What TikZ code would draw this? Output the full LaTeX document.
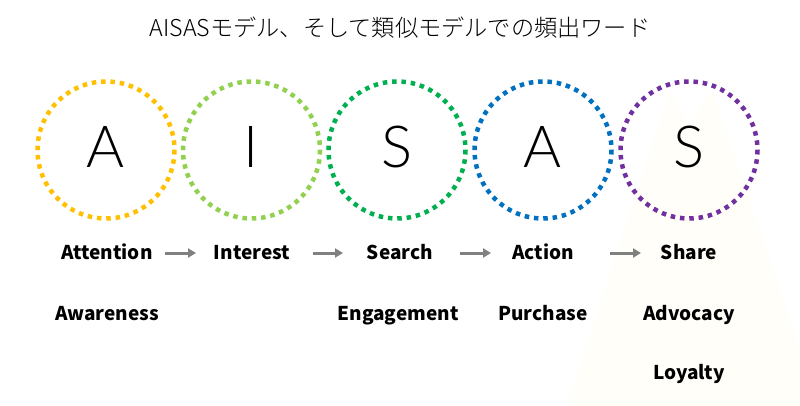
\documentclass[tikz,border=0pt]{standalone}
\usepackage{fontspec}
\setmainfont{Noto Sans CJK JP}
\IfFontExistsTF{Lato Light}{\newfontfamily\thinfont{Lato Light}\def\thinsize{58}}{%
  \IfFontExistsTF{Fira Sans Light}{\newfontfamily\thinfont{Fira Sans Light}\def\thinsize{60}}{%
    \IfFontExistsTF{Open Sans Light}{\newfontfamily\thinfont{Open Sans Light}\def\thinsize{57}}{%
      \newfontfamily\thinfont{Noto Sans CJK JP}\def\thinsize{62}}}}
\IfFontExistsTF{Noto Sans CJK JP Light}{\newfontfamily\titlefont{Noto Sans CJK JP Light}}{%
  \IfFontExistsTF{Noto Sans CJK JP DemiLight}{\newfontfamily\titlefont{Noto Sans CJK JP DemiLight}}{%
    \newfontfamily\titlefont{Noto Sans CJK JP}}}
\usetikzlibrary{arrows.meta}
\definecolor{cyel}{HTML}{FFC000}
\definecolor{clgr}{HTML}{92D050}
\definecolor{cdgr}{HTML}{00B050}
\definecolor{cblu}{HTML}{0070C0}
\definecolor{cpur}{HTML}{7030A0}
\definecolor{arrowgray}{HTML}{808080}
\definecolor{faint}{HTML}{FFFEF9}
\begin{document}
\begin{tikzpicture}[x=1pt,y=-1pt,
  ring/.style={line width=4.5pt, dash pattern=on 4.5pt off 4.85pt},
  big/.style={font=\thinfont\fontsize{\thinsize}{\thinsize}\selectfont, anchor=base, inner sep=0pt},
  lab/.style={font=\bfseries\fontsize{19}{19}\selectfont, anchor=base, inner sep=0pt},
  flow/.style={draw=arrowgray, line width=3pt, -{Triangle[length=8pt,width=9pt]}}]
\path[use as bounding box, fill=white] (0,0) rectangle (800,406);
% faint background shape
\fill[faint] (567,406) -- (670,90) -- (689,125) -- (712,90) -- (800,350) -- (800,406) -- cycle;
% title
\node[font=\titlefont\fontsize{23.2}{24}\selectfont, anchor=base, inner sep=0pt] (title) at (400,37) {AISASモデル、そして類似モデルでの頻出ワード};
% circles
\draw[ring, cyel] (106,150) circle (68.5);
\draw[ring, clgr] (251.5,150) circle (68.5);
\draw[ring, cdgr] (397,150) circle (68.5);
\draw[ring, cblu] (543,150) circle (68.5);
\draw[ring, cpur] (689,150) circle (68.5);
\node[big] (L1) at (106,168) {A};
\node[big] (L2) at (251.5,168) {I};
\node[big] (L3) at (397,168) {S};
\node[big] (L4) at (543,168) {A};
\node[big] (L5) at (689,168) {S};
% labels row 1
\node[lab] (att) at (107,259) {Attention};
\node[lab] (int) at (252,259) {Interest};
\node[lab] (sea) at (400,259) {Search};
\node[lab] (act) at (543,259) {Action};
\node[lab] (sha) at (689,259) {Share};
% arrows
\coordinate (a1s) at (165,253); \coordinate (a1e) at (196,253);
\coordinate (a2s) at (313,253); \coordinate (a2e) at (343,253);
\coordinate (a3s) at (460,253); \coordinate (a3e) at (491,253);
\coordinate (a4s) at (610,253); \coordinate (a4e) at (641,253);
\draw[flow] (a1s) -- (a1e);
\draw[flow] (a2s) -- (a2e);
\draw[flow] (a3s) -- (a3e);
\draw[flow] (a4s) -- (a4e);
% row 2, 3
\node[lab] (awa) at (107,320) {Awareness};
\node[lab] (eng) at (398,320) {Engagement};
\node[lab] (pur) at (543,320) {Purchase};
\node[lab] (adv) at (689,320) {Advocacy};
\node[lab] (loy) at (689,379) {Loyalty};
\end{tikzpicture}
\end{document}
